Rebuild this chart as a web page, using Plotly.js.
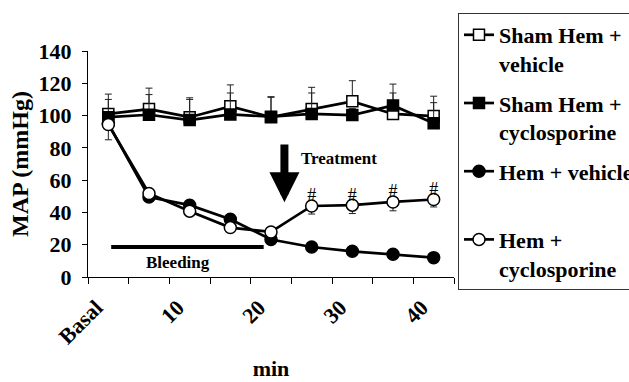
<!DOCTYPE html>
<html><head><meta charset="utf-8">
<script src="https://cdn.plot.ly/plotly-3.0.1.min.js"></script>
<style>html,body{margin:0;padding:0;background:#fff;overflow:hidden}#chart{width:629px;height:382px}</style>
</head><body><div id="chart"></div>
<script>
const categories = ["Basal","5","10","15","20","25","30","35","40"];
const tickLabels = ["Basal","10","20","30","40"];
const shamVehicle = [101, 104, 99, 105.7, 99, 104, 108.8, 101, 99.7];
const shamVehicleErr = [12.3, 13, 12, 13.3, 12.7, 13.5, 12.8, 13, 12.3];
const shamCyclo = [99, 100.5, 97.2, 100.7, 99.3, 101, 100.3, 106.3, 95.3];
const shamCycloErr = [11, 12.5, 12.8, 13.3, 12, 13, 4, 13.2, 12.7];
const hemVehicle = [95, 49.5, 44.5, 35.8, 23.2, 18.6, 15.9, 14.1, 12];
const hemVehicleErr = [3, 2, 3, 3, 2, 2, 2, 2, 2];
const hemCyclo = [94.5, 51.7, 40.8, 30.6, 27.9, 44, 44.5, 46.5, 48];
const hemCycloErr = [9.5, 3, 3, 3, 3, 5, 5.2, 5.5, 4.6];
const sigCats = ["25","30","35","40"];
const seriesNames = ["Sham Hem +<br>vehicle","Sham Hem +<br>cyclosporine","Hem + vehicle<br> ","Hem +<br>cyclosporine"];

const xs = categories.map((c,i)=>i);
const zeros = categories.map(()=>0);
const serif = "'Liberation Serif', 'Times New Roman', Times, serif";

function tr(name, y, err, up, symbol, fill, size, grp){
  return {
    x: xs, y: y, name: name, type: 'scatter', mode: 'lines+markers',
    legendgroup: grp,
    line: {color: '#000', width: 2.7},
    marker: {symbol: symbol, size: size, color: fill, line: {color: '#000', width: 1.5}},
    error_y: {type: 'data', symmetric: false,
      array: up ? err : zeros, arrayminus: up ? zeros : err,
      color: '#222', thickness: 1, width: 3.5}
  };
}

const data = [
  tr(seriesNames[0], shamVehicle, shamVehicleErr, true, 'square', '#fff', 11, 'a'),
  tr(seriesNames[1], shamCyclo, shamCycloErr, true, 'square', '#000', 11, 'b'),
  tr(seriesNames[2], hemVehicle, hemVehicleErr, true, 'circle', '#000', 12, 'c'),
  tr(seriesNames[3], hemCyclo, hemCycloErr, false, 'circle', '#fff', 12, 'd'),
  {
    x: sigCats.map(c=>categories.indexOf(c)),
    y: sigCats.map(c=>hemCyclo[categories.indexOf(c)]),
    type: 'scatter', mode: 'text', text: sigCats.map(()=>'#'),
    textposition: 'top center', showlegend: false, hoverinfo: 'skip',
    textfont: {family: serif, size: 18, color: '#000'}
  }
];

const boundaries = categories.map((c,i)=>i-0.5).concat([categories.length-0.5]);

const layout = {
  width: 629, height: 382,
  margin: {l: 88, r: 175, t: 51, b: 105},
  paper_bgcolor: '#fff', plot_bgcolor: '#fff',
  font: {family: serif, color: '#000'},
  showlegend: true,
  legend: {
    xref: 'container', yref: 'container', x: 458/629, y: 1-13/382,
    xanchor: 'left', yanchor: 'top', valign: 'top',
    maxheight: 360,
    bordercolor: '#333', borderwidth: 1, bgcolor: '#fff',
    tracegroupgap: 8,
    font: {family: serif, size: 22, weight: 'bold', color: '#000'}
  },
  xaxis: {
    range: [-0.5, categories.length-0.5],
    tickmode: 'array', tickvals: tickLabels.map(t=>categories.indexOf(t)), ticktext: tickLabels,
    ticks: '', tickangle: -45, showgrid: false, zeroline: false,
    showline: true, linecolor: '#000', linewidth: 1,
    ticklabelshift: -12, ticklabelstandoff: 8,
    tickfont: {family: serif, size: 22, weight: 'bold', color: '#000'},
    minor: {tickmode: 'array', tickvals: boundaries, ticks: 'outside', ticklen: 6, tickwidth: 1, tickcolor: '#000', showgrid: false},
    title: {text: 'min', standoff: 12, font: {family: serif, size: 22, weight: 'bold', color: '#000'}},
    automargin: false
  },
  yaxis: {
    range: [0, 140], dtick: 20, tick0: 0,
    ticks: 'outside', ticklen: 5, tickwidth: 1, tickcolor: '#000',
    showgrid: false, zeroline: false,
    showline: true, linecolor: '#000', linewidth: 1,
    ticklabelstandoff: 6,
    tickfont: {family: serif, size: 22, weight: 'bold', color: '#000'},
    title: {text: 'MAP (mmHg)', standoff: 3, font: {family: serif, size: 24, weight: 'bold', color: '#000'}},
    automargin: false
  },
  shapes: [
    {type: 'line', xref: 'x', yref: 'y', x0: 0.07, x1: 3.82, y0: 18.6, y1: 18.6, line: {color: '#000', width: 4}}
  ],
  annotations: [
    {x: 5.67, y: 73.6, xref: 'x', yref: 'y', text: 'Treatment', showarrow: false,
     font: {family: serif, size: 17, weight: 'bold', color: '#000'}},
    {x: 1.71, y: 9.1, xref: 'x', yref: 'y', text: 'Bleeding', showarrow: false,
     font: {family: serif, size: 17, weight: 'bold', color: '#000'}},
    {x: 4.33, y: 46.3, ax: 4.33, ay: 83, xref: 'x', yref: 'y', axref: 'x', ayref: 'y',
     text: '', showarrow: true, arrowhead: 2, arrowsize: 0.75, arrowwidth: 8, arrowcolor: '#000'}
  ]
};

Plotly.newPlot('chart', data, layout, {displayModeBar: false, staticPlot: true});
</script>
</body></html>
